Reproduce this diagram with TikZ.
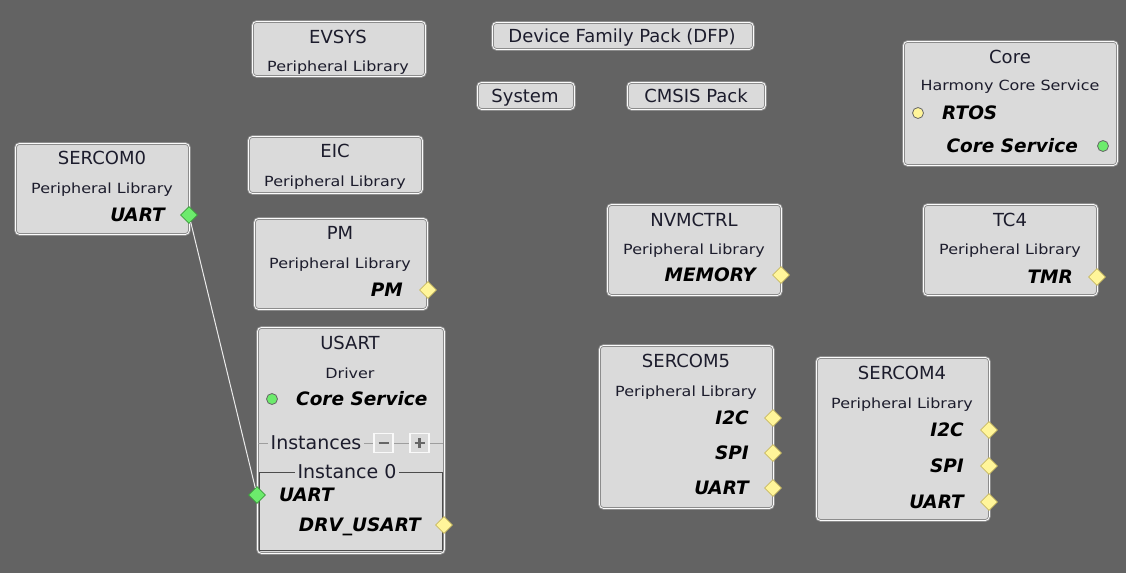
\documentclass[tikz,border=0pt]{standalone}
\usepackage{fontspec}
\setmainfont{DejaVu Sans}
\newfontfamily\subfont[FakeStretch=1.14]{DejaVu Sans}
\usetikzlibrary{shapes.geometric}
\definecolor{bgc}{HTML}{636363}
\definecolor{boxfill}{HTML}{DADADA}
\definecolor{boxline}{HTML}{8C8C8C}
\definecolor{titlec}{HTML}{1C1C2C}
\definecolor{yfill}{HTML}{FFF59A}
\definecolor{yline}{HTML}{C8B860}
\definecolor{gfill}{HTML}{6CEB6C}
\definecolor{gline}{HTML}{3C9C3C}
\tikzset{
  box/.style={rectangle, rounded corners=4pt, fill=boxfill, draw=boxline, line width=0.9pt, double=white!92!boxfill, double distance=0.8pt, inner sep=0pt, anchor=north west},
  ttl/.style={font=\fontsize{18}{20}\selectfont, text=titlec, inner sep=0pt, anchor=mid, yshift=-4pt},
  sub/.style={font=\subfont\fontsize{14}{16}\selectfont, text=titlec, inner sep=0pt, anchor=mid, yshift=-3.5pt},
  lbl/.style={font=\fontsize{18.5}{20}\selectfont\bfseries\itshape, text=black, inner sep=0pt, anchor=mid east, yshift=-4pt},
  lbll/.style={lbl, anchor=mid west},
  ydia/.style={diamond, minimum size=17pt, inner sep=0pt, fill=yfill, draw=yline, line width=0.6pt},
  gdia/.style={diamond, minimum size=17pt, inner sep=0pt, fill=gfill, draw=gline, line width=0.6pt},
  ycirc/.style={circle, minimum size=11pt, inner sep=0pt, fill=yfill, draw=black!60, line width=0.8pt},
  gcirc/.style={circle, minimum size=11pt, inner sep=0pt, fill=gfill, draw=black!60, line width=0.8pt},
  conn/.style={draw=white!92!black, line width=1pt},
  instline/.style={draw=black!38, line width=0.9pt},
  instframe/.style={draw=black!70, line width=1pt},
  btn/.style={rectangle, minimum width=19pt, minimum height=19pt, inner sep=0pt, fill=boxfill, draw=white!85!boxfill, line width=1.4pt},
  btnmark/.style={draw=black!60, line width=2.2pt},
  itxt/.style={font=\fontsize{19}{21}\selectfont, text=titlec, fill=boxfill, inner xsep=3pt, inner ysep=0pt, anchor=mid, yshift=-4pt}
}
\begin{document}
\begin{tikzpicture}[x=1pt,y=-1pt]
\fill[bgc] (0,0) rectangle (1126,573);
\useasboundingbox (0,0) rectangle (1126,573);

% EVSYS
\node[box, minimum width=173pt, minimum height=55pt] (evsys) at (252,21) {};
\node[ttl] (evsysT) at (338,37) {EVSYS};
\node[sub] (evsysS) at (338,65) {Peripheral Library};

% DFP
\node[box, minimum width=261pt, minimum height=27pt] (dfp) at (492,22) {};
\node[ttl] (dfpT) at (622,36) {Device Family Pack (DFP)};

% System
\node[box, minimum width=97pt, minimum height=27pt] (system) at (477,82) {};
\node[ttl] (systemT) at (525,96) {System};

% CMSIS
\node[box, minimum width=138pt, minimum height=27pt] (cmsis) at (627,82) {};
\node[ttl] (cmsisT) at (696,96) {CMSIS Pack};

% EIC
\node[box, minimum width=174pt, minimum height=57pt] (eic) at (248,136) {};
\node[ttl] (eicT) at (335,151) {EIC};
\node[sub] (eicS) at (335,180) {Peripheral Library};

% SERCOM0
\node[box, minimum width=174pt, minimum height=91pt] (s0) at (15,143) {};
\node[ttl] (s0T) at (102,158) {SERCOM0};
\node[sub] (s0S) at (102,187) {Peripheral Library};
\node[lbl] (s0L) at (165,215) {UART};
\node[gdia] (s0P) at (189,215) {};

% PM
\node[box, minimum width=173pt, minimum height=91pt] (pm) at (254,218) {};
\node[ttl] (pmT) at (340,233) {PM};
\node[sub] (pmS) at (340,262) {Peripheral Library};
\node[lbl] (pmL) at (403,290) {PM};
\node[ydia] (pmP) at (428,290) {};

% USART
\node[box, minimum width=187pt, minimum height=226pt] (usart) at (257,327) {};
\node[ttl] (usartT) at (350,343) {USART};
\node[sub] (usartS) at (350,372) {Driver};
\node[gcirc] (usartC) at (272,399) {};
\node[lbll] (usartCL) at (296,399) {Core Service};
\draw[instline] (258,443) -- (443,443);
\node[itxt] (instT) at (316,443) {Instances};
\node[btn] (minusb) at (383.5,443) {};
\node[btn] (plusb) at (419.5,443) {};
\draw[btnmark] ([xshift=-5pt]minusb.center) -- ([xshift=5pt]minusb.center);
\draw[btnmark] ([xshift=-5pt]plusb.center) -- ([xshift=5pt]plusb.center);
\draw[btnmark] ([yshift=-5pt]plusb.center) -- ([yshift=5pt]plusb.center);
\draw[instframe] (259,472) rectangle (442,550);
\node[itxt] (inst0T) at (347,472) {Instance 0};
\node[lbll] (usartUL) at (279,495) {UART};
\node[gdia] (usartUP) at (257,495) {};
\node[lbl] (usartDL) at (421,525) {DRV\_USART};
\node[ydia] (usartDP) at (444,525) {};

% connector
\draw[conn] (s0P) -- (usartUP);

% NVMCTRL
\node[box, minimum width=174pt, minimum height=91pt] (nvm) at (607,204) {};
\node[ttl] (nvmT) at (694,220) {NVMCTRL};
\node[sub] (nvmS) at (694,248) {Peripheral Library};
\node[lbl] (nvmL) at (756,275) {MEMORY};
\node[ydia] (nvmP) at (781,275) {};

% Core
\node[box, minimum width=214pt, minimum height=124pt] (core) at (903,41) {};
\node[ttl] (coreT) at (1010,57) {Core};
\node[sub] (coreS) at (1010,84) {Harmony Core Service};
\node[ycirc] (coreRC) at (918,113) {};
\node[lbll] (coreRL) at (942,113) {RTOS};
\node[lbl] (coreSL) at (1078,146) {Core Service};
\node[gcirc] (coreSC) at (1103,146) {};

% TC4
\node[box, minimum width=174pt, minimum height=91pt] (tc4) at (923,204) {};
\node[ttl] (tc4T) at (1010,220) {TC4};
\node[sub] (tc4S) at (1010,248) {Peripheral Library};
\node[lbl] (tc4L) at (1073,277) {TMR};
\node[ydia] (tc4P) at (1097,277) {};

% SERCOM5
\node[box, minimum width=174pt, minimum height=163pt] (s5) at (599,345) {};
\node[ttl] (s5T) at (686,361) {SERCOM5};
\node[sub] (s5S) at (686,390) {Peripheral Library};
\node[lbl] (s5L1) at (749,418) {I2C};
\node[ydia] (s5P1) at (773,418) {};
\node[lbl] (s5L2) at (749,453) {SPI};
\node[ydia] (s5P2) at (773,453) {};
\node[lbl] (s5L3) at (749,488) {UART};
\node[ydia] (s5P3) at (773,488) {};

% SERCOM4
\node[box, minimum width=173pt, minimum height=163pt] (s4) at (816,357) {};
\node[ttl] (s4T) at (902,373) {SERCOM4};
\node[sub] (s4S) at (902,402) {Peripheral Library};
\node[lbl] (s4L1) at (964,430) {I2C};
\node[ydia] (s4P1) at (989,430) {};
\node[lbl] (s4L2) at (964,466) {SPI};
\node[ydia] (s4P2) at (989,466) {};
\node[lbl] (s4L3) at (964,502) {UART};
\node[ydia] (s4P3) at (989,502) {};
\end{tikzpicture}
\end{document}
